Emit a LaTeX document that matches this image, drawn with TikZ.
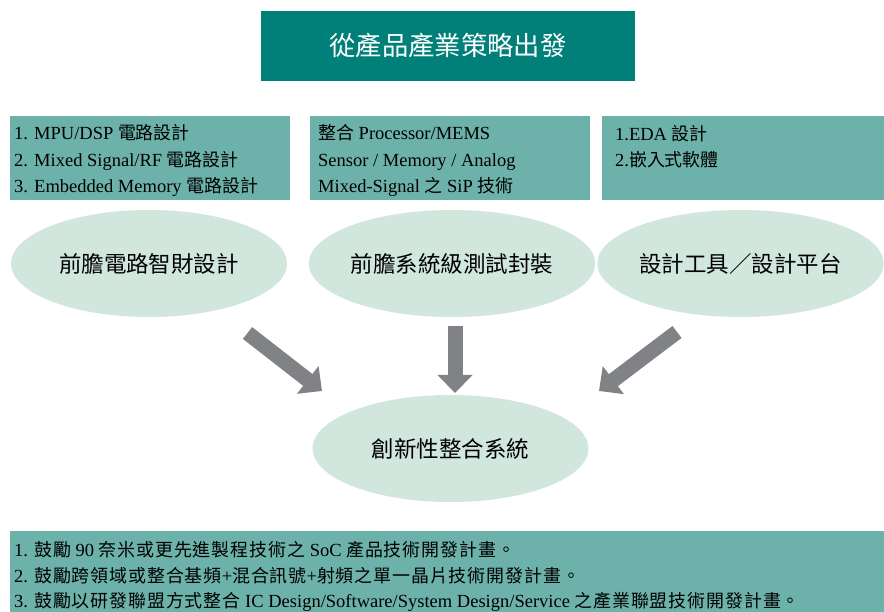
\documentclass[tikz,border=0pt]{standalone}
\usepackage{fontspec}
\setmainfont{Liberation Serif}
\newfontfamily\cjk[Scale=0.97]{Noto Sans CJK TC}
\newfontfamily\cjkwide[Scale=0.97,LetterSpace=5]{Noto Sans CJK TC}
\newfontfamily\cjkbig{Noto Sans CJK TC}
\usetikzlibrary{arrows.meta,shapes.geometric}
\definecolor{titleteal}{RGB}{0,128,120}
\definecolor{boxteal}{RGB}{108,178,170}
\definecolor{ellfill}{RGB}{209,231,222}
\definecolor{arrowgray}{RGB}{128,130,133}
\newcommand\zh[1]{{\cjk #1}}
\begin{document}
\begin{tikzpicture}[x=1pt,y=-1pt,
  boxtext/.style={anchor=base west, inner sep=0pt, font=\fontsize{18.5}{22}\selectfont, text=black},
  bottext/.style={anchor=base west, inner sep=0pt, font=\fontsize{18.5}{22}\selectfont\let\cjk\cjkwide, text=black},
  ellnode/.style={ellipse, fill=ellfill, draw=none, minimum width=276pt, minimum height=107pt, inner sep=0pt, font=\cjkbig\fontsize{22.5}{26}\selectfont},
  bigarrow/.style={draw=arrowgray, line width=15pt, -{Triangle[length=18pt,width=34pt]}, arrowgray},
  tealbox/.style={fill=boxteal, draw=none}
]
\useasboundingbox (0,0) rectangle (884,612);
\fill[white] (0,0) rectangle (884,612);

% title
\node[fill=titleteal, minimum width=374pt, minimum height=70pt, inner sep=0pt, text=white,
  font=\cjkbig\fontsize{26.3}{30}\selectfont] (title) at (448,46) {從產品產業策略出發};

% top boxes
\fill[tealbox] (10,116) rectangle (290,200);
\fill[tealbox] (310,116) rectangle (590,200);
\fill[tealbox] (602,116) rectangle (884,200);

\node[boxtext] (l1) at (14,140) {1. MPU/DSP \zh{電路設計}};
\node[boxtext] (l2) at (14,166.5) {2. Mixed Signal/RF \zh{電路設計}};
\node[boxtext] (l3) at (14,193) {3. Embedded Memory \zh{電路設計}};

\node[boxtext] (m1) at (318,140) {\zh{整合} Processor/MEMS};
\node[boxtext] (m2) at (318,166.5) {Sensor / Memory / Analog};
\node[boxtext] (m3) at (318,193) {Mixed-Signal \zh{之} SiP \zh{技術}};

\node[boxtext] (r1) at (615,140.5) {1.EDA \zh{設計}};
\node[boxtext] (r2) at (615,167) {2.\zh{嵌入式軟體}};

% ellipses
\node[ellnode] (e1) at (149,263.5) {前膽電路智財設計};
\node[ellnode] (e2) at (452,263.5) {前膽系統級測試封裝};
\node[ellnode] (e3) at (740.5,263.5) {設計工具／設計平台};
\node[ellnode] (e4) at (450.5,448.5) {創新性整合系統};

% arrows
\coordinate (a1s) at (247.5,333);
\coordinate (a1e) at (322,391);
\coordinate (a2s) at (455,326);
\coordinate (a2e) at (455,393);
\coordinate (a3s) at (677,332);
\coordinate (a3e) at (599,391);
\draw[bigarrow] (a1s) -- (a1e);
\draw[bigarrow] (a2s) -- (a2e);
\draw[bigarrow] (a3s) -- (a3e);

% bottom box
\fill[tealbox] (10,531) rectangle (884,612);
\node[bottext] (b1) at (14,556.5) {1. \zh{鼓勵} 90 \zh{奈米或更先進製程技術之} SoC \zh{產品技術開發計畫。}};
\node[bottext] (b2) at (14,582) {2. \zh{鼓勵跨領域或整合基頻}+\zh{混合訊號}+\zh{射頻之單一晶片技術開發計畫。}};
\node[bottext] (b3) at (14,607.5) {3. \zh{鼓勵以研發聯盟方式整合} IC Design/Software/System Design/Service \zh{之產業聯盟技術開發計畫。}};
\end{tikzpicture}
\end{document}
